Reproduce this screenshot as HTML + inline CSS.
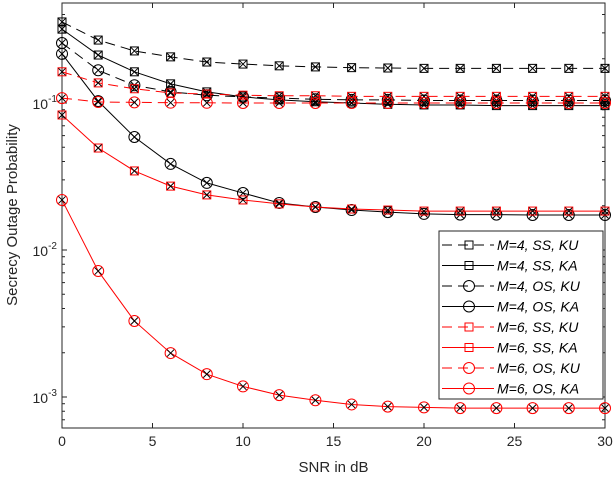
<!DOCTYPE html>
<html><head><meta charset="utf-8"><style>
body{margin:0;background:#fff}
svg{display:block;font-family:"Liberation Sans",sans-serif}
</style></head><body>
<svg id="c" width="614" height="480"></svg>
<script>
const snr=[0,2,4,6,8,10,12,14,16,18,20,22,24,26,28,30];
const m4ssku=[0.356,0.268,0.226,0.206,0.190,0.184,0.179,0.176,0.174,0.173,0.172,0.172,0.172,0.172,0.172,0.172];
const m4ssKa=[0.318,0.212,0.163,0.135,0.119,0.110,0.105,0.102,0.100,0.098,0.097,0.097,0.096,0.096,0.096,0.096];
const m4osku=[0.256,0.167,0.132,0.119,0.113,0.110,0.108,0.106,0.105,0.105,0.104,0.104,0.104,0.104,0.104,0.104];
const m4oska=[0.216,0.103,0.0587,0.0385,0.0286,0.0244,0.0209,0.0196,0.0187,0.0181,0.0176,0.0174,0.0174,0.0173,0.0173,0.0173];
const m6ssku=[0.163,0.137,0.125,0.117,0.115,0.113,0.112,0.112,0.111,0.111,0.111,0.111,0.111,0.111,0.111,0.111];
const m6sska=[0.0829,0.0494,0.0345,0.0272,0.0237,0.0219,0.0206,0.0196,0.019,0.0187,0.0184,0.0184,0.0184,0.0184,0.0184,0.0184];
const m6osku=[0.108,0.1016,0.101,0.1005,0.1003,0.100,0.100,0.100,0.100,0.100,0.100,0.100,0.100,0.100,0.100,0.100];
const m6oska=[0.0219,0.00719,0.00329,0.00199,0.00143,0.00118,0.00103,0.00095,0.00089,0.00086,0.00085,0.00084,0.00084,0.00084,0.00084,0.00084];
const xTicks=[0,5,10,15,20,25,30];
const yDecades=[-3,-2,-1];
const labels=["M=4, SS, KU","M=4, SS, KA","M=4, OS, KU","M=4, OS, KA","M=6, SS, KU","M=6, SS, KA","M=6, OS, KU","M=6, OS, KA"];
const series=[
 {d:m4ssku,c:"#000",dash:true,m:"sq",n:"m4-ss-ku"},
 {d:m4ssKa,c:"#000",dash:false,m:"sq",n:"m4-ss-ka"},
 {d:m4osku,c:"#000",dash:true,m:"ci",n:"m4-os-ku"},
 {d:m4oska,c:"#000",dash:false,m:"ci",n:"m4-os-ka"},
 {d:m6ssku,c:"#f00",dash:true,m:"sq",n:"m6-ss-ku"},
 {d:m6sska,c:"#f00",dash:false,m:"sq",n:"m6-ss-ka"},
 {d:m6osku,c:"#f00",dash:true,m:"ci",n:"m6-os-ku"},
 {d:m6oska,c:"#f00",dash:false,m:"ci",n:"m6-os-ka"}];
const L=62,R=605,T=3,B=428;
const X=v=>L+(v-0)/(30-0)*(R-L);
const Y=v=>103-(Math.log10(v)+1)*147;
const svg=document.getElementById('c');
const NS="http://www.w3.org/2000/svg";
function el(t,a,p){const e=document.createElementNS(NS,t);for(const k in a)e.setAttribute(k,a[k]);(p||svg).appendChild(e);return e;}
const frame=el('rect',{x:L,y:T,width:R-L,height:B-T,fill:'none',stroke:'#262626','stroke-width':1});


xTicks.forEach(t=>{
 el('line',{x1:X(t),x2:X(t),y1:B,y2:B-5,stroke:'#262626'});
 el('line',{x1:X(t),x2:X(t),y1:T,y2:T+5,stroke:'#262626'});
 const tx=el('text',{x:X(t),y:B+18,'text-anchor':'middle','font-size':14,fill:'#262626'});tx.textContent=t;
 
 
});
yDecades.forEach(d=>{
 const y=Y(Math.pow(10,d));
 el('line',{x1:L,x2:L+5,y1:y,y2:y,stroke:'#262626'});
 el('line',{x1:R,x2:R-5,y1:y,y2:y,stroke:'#262626'});
 const tx=el('text',{x:L-5,y:y+6,'text-anchor':'end','font-size':14,fill:'#262626'});
 
 
 tx.textContent='10';const s=el('tspan',{dy:-7,'font-size':10},tx);s.textContent=d;
});
for(let d=-4;d<0;d++)for(let k=2;k<10;k++){const v=k*Math.pow(10,d);const y=Y(v);if(y<T||y>B)continue;
 el('line',{x1:L,x2:L+3,y1:y,y2:y,stroke:'#262626'});el('line',{x1:R,x2:R-3,y1:y,y2:y,stroke:'#262626'});}
function marker(g,x,y,s,cross){
 if(s.m==='sq')el('rect',{x:x-4,y:y-4,width:8,height:8,fill:'none',stroke:s.c},g);
 else el('circle',{cx:x,cy:y,r:5.5,fill:'none',stroke:s.c},g);
 if(cross){el('line',{x1:x-3.5,y1:y-3.5,x2:x+3.5,y2:y+3.5,stroke:'#000'},g);el('line',{x1:x-3.5,y1:y+3.5,x2:x+3.5,y2:y-3.5,stroke:'#000'},g);}
}
series.forEach(s=>{
 const g=el('g',{});
 
 
 const pts=s.d.map((v,i)=>X(snr[i])+','+Y(v)).join(' ');
 const a={points:pts,fill:'none',stroke:s.c,'stroke-width':1};if(s.dash)a['stroke-dasharray']='10,6';
 el('polyline',a,g);
 s.d.forEach((v,i)=>marker(g,X(snr[i]),Y(v),s,true));
});
const lg=el('g',{});


el('rect',{x:439,y:231,width:164,height:168,fill:'#fff',stroke:'#262626'},lg);
series.forEach((s,i)=>{
 const y=245+i*20.5;
 const g=el('g',{},lg);
 
 
 const a={x1:442,x2:494,y1:y,y2:y,stroke:s.c};if(s.dash)a['stroke-dasharray']='10,6';
 el('line',a,g);
 marker(g,469,y,s,false);
 const t=el('text',{x:497,y:y+5,'font-size':14,'font-style':'italic',fill:'#000'},g);t.textContent=labels[i];
});
const xl=el('text',{x:(L+R)/2,y:472,'text-anchor':'middle','font-size':15,fill:'#262626'});xl.textContent='SNR in dB';


const yl=el('text',{x:0,y:0,'text-anchor':'middle','font-size':15,fill:'#262626',transform:'translate(17,215) rotate(-90)'});yl.textContent='Secrecy Outage Probability';


</script>
</body></html>
